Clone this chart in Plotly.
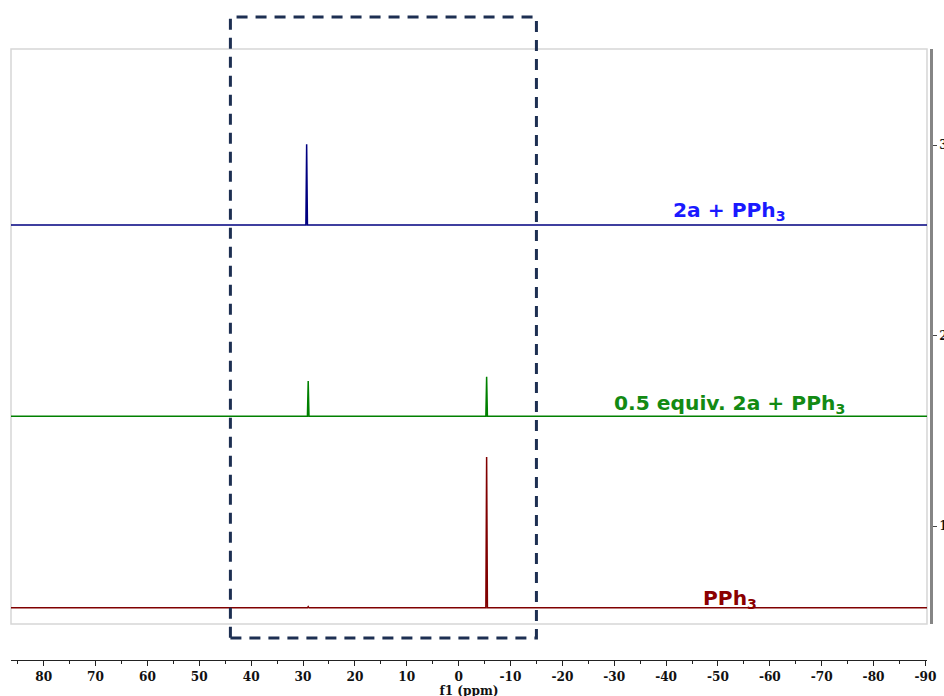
import plotly.graph_objects as go

# ---- data ----
x_range = [86.3, -90.3]          # f1 (ppm), reversed axis
y_range = [0.486, 3.504]

# spectrum traces: chemical shift (ppm) and intensity above each baseline
ppm_blue = [86.3, 29.45, 29.3, 29.15, -90.3]
int_blue = [0.0, 0.0, 0.424, 0.0, 0.0]

ppm_green = [86.3, 29.15, 29.0, 28.85, -5.25, -5.4, -5.55, -90.3]
int_green = [0.0, 0.0, 0.185, 0.0, 0.0, 0.208, 0.0, 0.0]

ppm_red = [86.3, 29.15, 29.0, 28.85, -5.25, -5.4, -5.55, -90.3]
int_red = [0.0, 0.0, 0.006, 0.0, 0.0, 0.791, 0.0, 0.0]

baselines = [2.580, 1.576, 0.571]          # blue, green, red stacking offsets
labels = ["2a + PPh<sub>3</sub>", "0.5 equiv. 2a + PPh<sub>3</sub>", "PPh<sub>3</sub>"]
label_ppm = [-52.2, -52.2, -52.3]
label_shift = [-0.5, -3, -6.5]
colors = ["#000080", "#008000", "#800000"]
label_colors = ["#1a1aff", "#138a13", "#8b0000"]

box_ppm = [44.0, -15.0]          # highlighted region
box_y = [0.412, 3.672]

x_ticks = list(range(80, -91, -10))
y_ticks = [1, 2, 3]

# ---- layout geometry (page is rendered slightly larger than the capture) ----
W, H = 959, 704
SX, SY = W / 944, H / 696
ml = 11 * SX
x_axis_px = 925 * SX          # right end of the x axis / frame
y_line_px = 929 * SX          # right axis line
mr = W - y_line_px
mt = 48 * SY
x_line_px = 659 * SY          # bottom axis line
mb = H - x_line_px
frame_bottom_px = 623 * SY
plot_w = W - ml - mr
plot_h = H - mt - mb
xd1 = (x_axis_px - ml) / plot_w
yd0 = (x_line_px - frame_bottom_px) / plot_h
FS = SY


def xpaper(p):
    return (p - x_range[0]) / (x_range[1] - x_range[0]) * xd1


def ypaper(v):
    return yd0 + (v - y_range[0]) / (y_range[1] - y_range[0]) * (1 - yd0)


fig = go.Figure()
series = [(ppm_blue, int_blue), (ppm_green, int_green), (ppm_red, int_red)]
for (px, iy), b, c in zip(series, baselines, colors):
    fig.add_trace(go.Scatter(x=px, y=[b + v for v in iy], mode="lines",
                             line=dict(color=c, width=1.5), showlegend=False,
                             hoverinfo="skip"))

for lab, lp, b, lc, ys in zip(labels, label_ppm, baselines, label_colors, label_shift):
    fig.add_annotation(x=lp, y=b, xref="x", yref="y", text="<b>" + lab + "</b>",
                       showarrow=False, yanchor="bottom", yshift=ys,
                       font=dict(family="DejaVu Sans", size=20 * FS, color=lc))

# grey frame
fig.add_shape(type="rect", xref="paper", yref="paper", x0=0, x1=xd1, y0=yd0, y1=1,
              line=dict(color="#d6d6d6", width=1.5), layer="below")
# dashed highlight box
fig.add_shape(type="rect", xref="paper", yref="paper",
              x0=xpaper(box_ppm[0]), x1=xpaper(box_ppm[1]),
              y0=ypaper(box_y[0]), y1=ypaper(box_y[1]),
              line=dict(color="#1d2f52", width=3, dash="11px,8px"))

tick_font = dict(family="DejaVu Serif", size=12 * FS, color="#111111", weight="bold")

fig.update_layout(
    width=W, height=H, autosize=False,
    margin=dict(l=ml, r=mr, t=mt, b=mb),
    paper_bgcolor="white", plot_bgcolor="white",
    showlegend=False,
    xaxis=dict(range=x_range, domain=[0, xd1], anchor="free", position=0,
               tickvals=x_ticks, ticktext=[str(t) for t in x_ticks],
               ticks="outside", ticklen=5, tickwidth=1, tickcolor="#222",
               showline=True, linecolor="#222", linewidth=1,
               showgrid=False, zeroline=False, tickfont=tick_font,
               minor=dict(dtick=5, tick0=0, ticks="outside", ticklen=3,
                          tickcolor="#222", showgrid=False),
               title=dict(text="f1 (ppm)", standoff=1,
                          font=dict(family="DejaVu Serif", size=12 * FS, color="#111",
                                    weight="bold"))),
    yaxis=dict(range=y_range, domain=[yd0, 1], side="right", anchor="free", position=1,
               tickvals=y_ticks, ticktext=[str(t) for t in y_ticks],
               ticks="outside", ticklen=4, tickcolor="#444",
               showline=True, linecolor="#858585", linewidth=2.5,
               showgrid=False, zeroline=False, tickfont=tick_font),
)

post = ("document.body.style.margin='0px';"
        "document.documentElement.style.overflow='hidden';"
        "document.body.style.overflow='hidden';")

fig.write_html("out.html",
               config={"displayModeBar": False, "responsive": False},
               post_script=post)
